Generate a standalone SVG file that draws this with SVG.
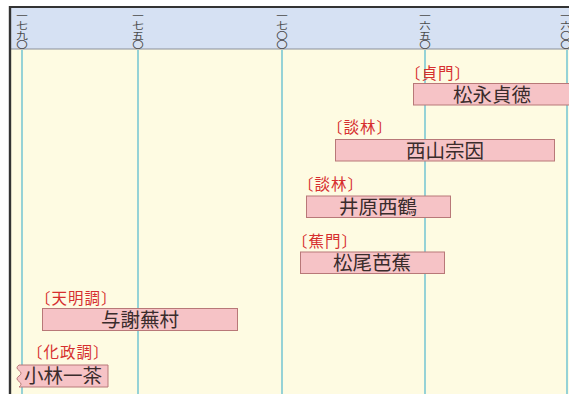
<svg xmlns="http://www.w3.org/2000/svg" width="569" height="394" viewBox="0 0 569 394">
<style>
.yr{font-family:"Noto Sans CJK JP","Noto Sans",sans-serif;font-size:11.5px;fill:#4a4a4a;writing-mode:vertical-rl;}
.grid{stroke:#4fb8cf;stroke-width:1.2;}
.bar{fill:#f6c3c6;stroke:#b87878;stroke-width:1;}
.nm{font-family:"Noto Sans CJK JP","Noto Sans",sans-serif;font-size:19.5px;fill:#3a2c2c;text-anchor:middle;}
.sc{font-family:"Noto Sans CJK JP","Noto Sans",sans-serif;font-size:15.5px;fill:#d62f2f;letter-spacing:1px;}
</style>
<rect x="0" y="0" width="569" height="394" fill="#ffffff"/>
<rect x="10" y="8" width="559" height="386" fill="#fefbe2"/>
<rect x="10" y="8" width="559" height="41" fill="#d6e1f3"/>
<line x1="10" y1="49" x2="569" y2="49" stroke="#8a8f99" stroke-width="1"/>
<line x1="9" y1="7" x2="569" y2="7" stroke="#333" stroke-width="2"/>
<line x1="10" y1="6" x2="10" y2="394" stroke="#333" stroke-width="2.4"/>
<g id="axis">
<text class="yr" transform="translate(22,11) scale(1,0.84)">一七九〇</text>
<text class="yr" transform="translate(138,11) scale(1,0.84)">一七五〇</text>
<text class="yr" transform="translate(282,11) scale(1,0.84)">一七〇〇</text>
<text class="yr" transform="translate(425,11) scale(1,0.84)">一六五〇</text>
<text class="yr" transform="translate(566,11) scale(1,0.84)">一六〇〇</text>
</g>
<g id="gridlines">
<line class="grid" x1="22" y1="50" x2="22" y2="394"/>
<line class="grid" x1="138" y1="50" x2="138" y2="394"/>
<line class="grid" x1="282" y1="50" x2="282" y2="394"/>
<line class="grid" x1="425" y1="50" x2="425" y2="394"/>
<line class="grid" x1="567" y1="50" x2="567" y2="394"/>
</g>
<g id="matsunaga">
<text class="sc" x="405" y="79">〔貞門〕</text>
<rect class="bar" x="413.5" y="83.5" width="160" height="21.5"/>
<text class="nm" x="492" y="101.5">松永貞徳</text>
</g>
<g id="nishiyama">
<text class="sc" x="327" y="133">〔談林〕</text>
<rect class="bar" x="335.5" y="139.5" width="219" height="21.5"/>
<text class="nm" x="445" y="157.5">西山宗因</text>
</g>
<g id="ihara">
<text class="sc" x="298" y="190">〔談林〕</text>
<rect class="bar" x="306.5" y="196" width="144" height="21.5"/>
<text class="nm" x="378" y="214">井原西鶴</text>
</g>
<g id="matsuo">
<text class="sc" x="292" y="247">〔蕉門〕</text>
<rect class="bar" x="300.5" y="252" width="144" height="21.5"/>
<text class="nm" x="372" y="270">松尾芭蕉</text>
</g>
<g id="yosa">
<text class="sc" x="35" y="304">〔天明調〕</text>
<rect class="bar" x="42.5" y="308.5" width="195" height="22"/>
<text class="nm" x="140" y="326.5">与謝蕪村</text>
</g>
<g id="kobayashi">
<text class="sc" x="27" y="358">〔化政調〕</text>
<path class="bar" d="M108 365 H19 q-4 2.7 0 5.5 q4 2.7 0 5.5 q-4 2.7 0 5.5 q4 2.7 0 5.5 H108 Z"/>
<text class="nm" x="63" y="383">小林一茶</text>
</g>
</svg>
